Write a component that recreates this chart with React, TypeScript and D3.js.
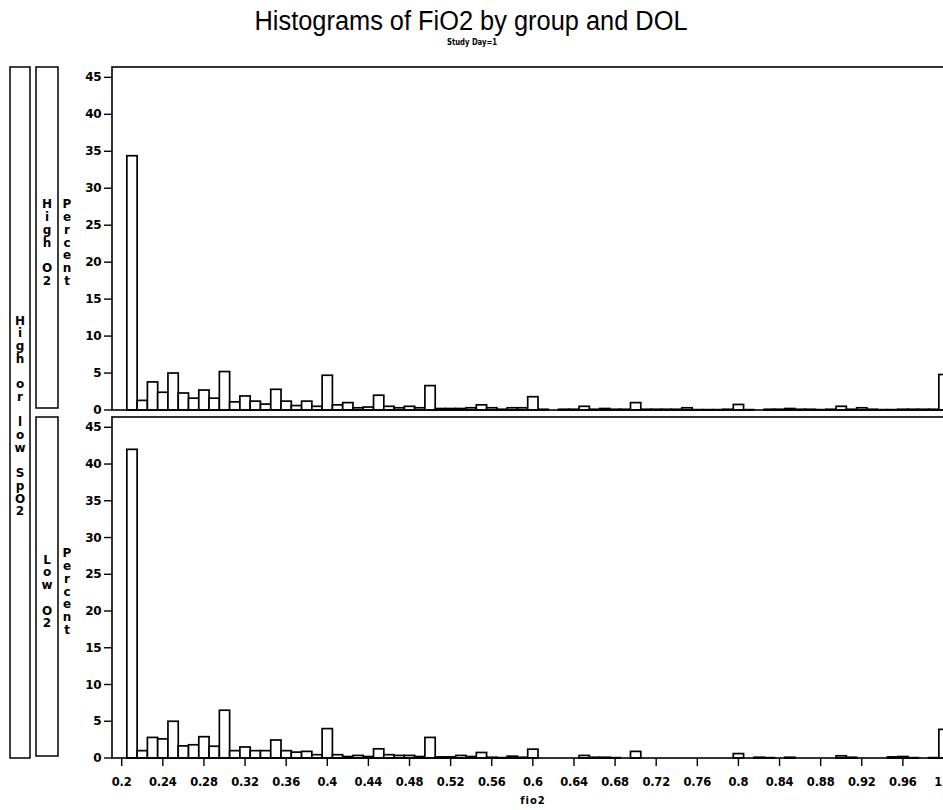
import React from 'react';
import * as d3 from 'd3';

// bin midpoints of fio2 (width 0.01)
const midpoints = [
  0.21, 0.22, 0.23, 0.24, 0.25, 0.26, 0.27, 0.28, 0.29, 0.30,
  0.31, 0.32, 0.33, 0.34, 0.35, 0.36, 0.37, 0.38, 0.39, 0.40,
  0.41, 0.42, 0.43, 0.44, 0.45, 0.46, 0.47, 0.48, 0.49, 0.50,
  0.51, 0.52, 0.53, 0.54, 0.55, 0.56, 0.57, 0.58, 0.59, 0.60,
  0.61, 0.62, 0.63, 0.64, 0.65, 0.66, 0.67, 0.68, 0.69, 0.70,
  0.71, 0.72, 0.73, 0.74, 0.75, 0.76, 0.77, 0.78, 0.79, 0.80,
  0.81, 0.82, 0.83, 0.84, 0.85, 0.86, 0.87, 0.88, 0.89, 0.90,
  0.91, 0.92, 0.93, 0.94, 0.95, 0.96, 0.97, 0.98, 0.99, 1.00,
];

// percent per bin, High O2 group
const highO2 = [
  34.4, 1.3, 3.8, 2.4, 5.0, 2.3, 1.6, 2.7, 1.6, 5.2,
  1.1, 1.9, 1.2, 0.8, 2.8, 1.2, 0.6, 1.2, 0.5, 4.7,
  0.7, 1.0, 0.3, 0.4, 2.0, 0.5, 0.3, 0.5, 0.3, 3.3,
  0.2, 0.2, 0.2, 0.3, 0.7, 0.3, 0.1, 0.3, 0.3, 1.8,
  0.1, 0, 0.1, 0.1, 0.5, 0.1, 0.2, 0.1, 0.1, 1.0,
  0.1, 0.1, 0.1, 0.1, 0.3, 0.05, 0.05, 0.05, 0.1, 0.75,
  0.05, 0, 0.1, 0.1, 0.2, 0.1, 0.1, 0.05, 0.1, 0.5,
  0.1, 0.3, 0.1, 0.05, 0.05, 0.1, 0.1, 0.1, 0.1, 4.8,
];

// percent per bin, Low O2 group
const lowO2 = [
  42.0, 1.0, 2.8, 2.6, 5.0, 1.65, 1.8, 2.9, 1.6, 6.5,
  1.0, 1.5, 1.0, 1.0, 2.45, 1.0, 0.8, 0.9, 0.45, 4.0,
  0.45, 0.2, 0.35, 0.2, 1.25, 0.45, 0.35, 0.35, 0.2, 2.8,
  0.15, 0.15, 0.35, 0.2, 0.75, 0.1, 0.05, 0.25, 0.1, 1.2,
  0, 0, 0, 0, 0.35, 0.1, 0.1, 0.05, 0, 0.9,
  0, 0, 0, 0, 0, 0, 0, 0, 0, 0.6,
  0, 0.1, 0.05, 0, 0.1, 0, 0, 0, 0, 0.3,
  0.1, 0, 0, 0, 0.15, 0.2, 0.05, 0, 0.05, 3.9,
];

const xTicks = [0.2, 0.24, 0.28, 0.32, 0.36, 0.4, 0.44, 0.48, 0.52, 0.56, 0.6,
  0.64, 0.68, 0.72, 0.76, 0.8, 0.84, 0.88, 0.92, 0.96, 1];
const yTicks = [0, 5, 10, 15, 20, 25, 30, 35, 40, 45];

const W = 943;
const H = 810;
const FONT = '"DejaVu Sans", "Liberation Sans", sans-serif';
const STEP = 12.7;

const x = d3.scaleLinear().domain([0.2, 1.0]).range([121.7, 944]);

const panels = [
  { top: 67, bottom: 410, label: 'High O2', data: highO2 },
  { top: 417, bottom: 758, label: 'Low O2', data: lowO2 },
];

// letters stacked one below the other, centred on cy
const Stacked = ({ text, cx, cy }: { text: string; cx: number; cy: number }) => {
  const chars = text.split('');
  const start = cy - ((chars.length - 1) * STEP) / 2;
  return (
    <g>
      {chars.map((c, i) => (
        <text key={i} x={cx} y={start + i * STEP} textAnchor="middle" dominantBaseline="central"
          style={{ fontFamily: FONT, fontWeight: 700, fontSize: 12 }}>
          {c}
        </text>
      ))}
    </g>
  );
};

const Panel = ({ top, bottom, label, data }: typeof panels[0]) => {
  const y = d3.scaleLinear().domain([0, 46.4]).range([bottom, top]);
  const cy = (top + bottom) / 2 + 4;
  return (
    <g>
      <rect x={36} y={top} width={22} height={bottom - top - 2} fill="white" stroke="black" strokeWidth={1.5} />
      <Stacked text={label} cx={47} cy={cy} />
      <Stacked text="Percent" cx={67} cy={cy} />
      {data.map((v, i) => v > 0 && (
        <rect key={i}
          x={x(midpoints[i] - 0.005)}
          y={y(v)}
          width={x(midpoints[i] + 0.005) - x(midpoints[i] - 0.005)}
          height={y(0) - y(v)}
          fill="white" stroke="black" strokeWidth={1.7} />
      ))}
      <rect x={112} y={top} width={850} height={bottom - top} fill="none" stroke="black" strokeWidth={1.6} />
      {yTicks.map(t => (
        <g key={t}>
          <line x1={104} x2={112} y1={y(t)} y2={y(t)} stroke="black" strokeWidth={1.4} />
          <text x={101} y={y(t)} textAnchor="end" dominantBaseline="central"
            style={{ fontFamily: FONT, fontWeight: 700, fontSize: 12, letterSpacing: '-0.5px' }}>
            {t}
          </text>
        </g>
      ))}
    </g>
  );
};

export default function App() {
  const base = panels[1].bottom;
  return (
    <svg width={W} height={H} style={{ position: 'fixed', left: 0, top: 0, background: 'white' }}>
      <text x={471} y={30} textAnchor="middle" textLength={433} lengthAdjust="spacingAndGlyphs"
        style={{ fontFamily: '"Liberation Sans", Arial, sans-serif', fontSize: 27 }}>
        Histograms of FiO2 by group and DOL
      </text>
      <text x={472} y={45} textAnchor="middle" textLength={50} lengthAdjust="spacingAndGlyphs"
        style={{ fontFamily: FONT, fontWeight: 700, fontSize: 9.5 }}>
        Study Day=1
      </text>

      <rect x={10} y={67} width={20} height={691} fill="white" stroke="black" strokeWidth={1.5} />
      <Stacked text="High or low SpO2" cx={20} cy={416} />

      {panels.map(p => <Panel key={p.label} {...p} />)}

      {xTicks.map((t, i) => {
        const last = i === xTicks.length - 1;
        return (
          <g key={t}>
            <line x1={x(t)} x2={x(t)} y1={base} y2={base + 8} stroke="black" strokeWidth={1.4} />
            <text x={last ? 942 : x(t)} y={782} textAnchor={last ? 'end' : 'middle'} dominantBaseline="central"
              style={{ fontFamily: FONT, fontWeight: 700, fontSize: 11.5, letterSpacing: '-0.2px' }}>
              {String(t)}
            </text>
          </g>
        );
      })}
      <text x={533} y={800} textAnchor="middle" dominantBaseline="central"
        style={{ fontFamily: FONT, fontWeight: 700, fontSize: 10, letterSpacing: '1px' }}>
        fio2
      </text>
    </svg>
  );
}
